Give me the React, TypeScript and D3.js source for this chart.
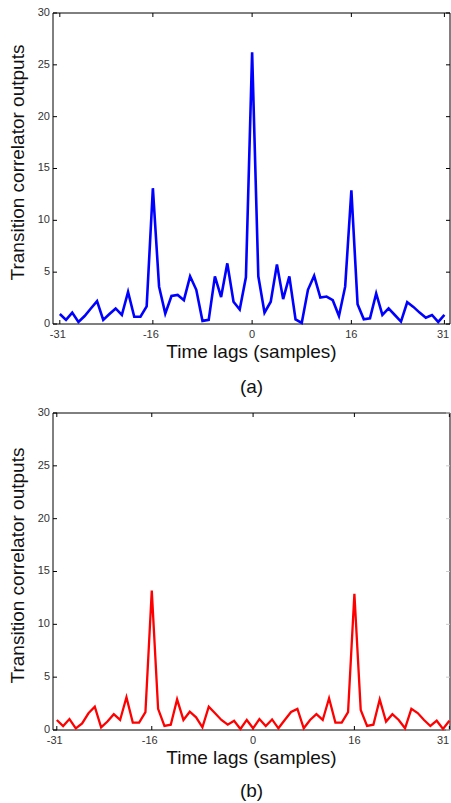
import React from "react";
import * as d3 from "d3";

const lags: number[] = d3.range(-31, 32);

const seriesA: number[] = [
  0.96, 0.4, 1.1, 0.2, 0.77, 1.5, 2.2, 0.4, 0.96, 1.5, 0.87, 3.1, 0.7, 0.7, 1.7,
  13.1, 3.6, 1.0, 2.7, 2.8, 2.3, 4.6, 3.3, 0.3, 0.4, 4.6, 2.6, 5.85, 2.15, 1.4, 4.5,
  26.2,
  4.6, 1.1, 2.15, 5.75, 2.4, 4.6, 0.45, 0.1, 3.3, 4.65, 2.55, 2.65, 2.3, 0.77, 3.6,
  12.9, 1.9, 0.45, 0.55, 2.95, 0.87, 1.5, 0.87, 0.23, 2.1, 1.65, 1.1, 0.6, 0.87, 0.2, 0.87,
];

const seriesB: number[] = [
  0.95, 0.38, 1.04, 0.16, 0.63, 1.58, 2.2, 0.25, 0.8, 1.5, 0.95, 3.1, 0.7, 0.7, 1.7,
  13.2, 2.0, 0.38, 0.5, 2.9, 0.95, 1.73, 1.2, 0.25, 2.2, 1.58, 0.95, 0.5, 0.88, 0.1, 0.95,
  0.16,
  1.04, 0.38, 1.0, 0.16, 0.95, 1.7, 2.0, 0.16, 0.95, 1.5, 0.95, 3.0, 0.7, 0.7, 1.7,
  12.9, 1.9, 0.38, 0.5, 2.9, 0.8, 1.5, 0.95, 0.16, 2.0, 1.6, 0.95, 0.38, 0.88, 0.1, 0.88,
];

const xTicks: number[] = [-31, -16, 0, 16, 31];
const yTicks: number[] = [0, 5, 10, 15, 20, 25, 30];
const xLabel = "Time lags (samples)";
const yLabel = "Transition correlator outputs";

const FONT = "'Liberation Sans', Arial, Helvetica, sans-serif";

type PanelProps = {
  values: number[];
  color: string;
  strokeW: number;
  left: number;
  right: number;
  top: number;
  bottom: number;
  xDomain: [number, number];
  caption: string;
  tickLabelY: number;
  xLabelY: number;
  captionY: number;
  rightTickColor: string;
};

function Panel(p: PanelProps) {
  const x = d3.scaleLinear().domain(p.xDomain).range([p.left, p.right]);
  const y = d3.scaleLinear().domain([0, 30]).range([p.bottom, p.top]);
  const line = d3
    .line<number>()
    .x((_, i) => x(lags[i]))
    .y((d) => y(d));
  const tl = 4;
  const midX = (p.left + p.right) / 2;
  return (
    <g>
      <line x1={p.left} x2={p.right} y1={p.top} y2={p.top} stroke="#000" strokeWidth={1} />
      <line x1={p.left} x2={p.right} y1={p.bottom} y2={p.bottom} stroke="#000" strokeWidth={1} />
      <line x1={p.left} x2={p.left} y1={p.top} y2={p.bottom} stroke="#000" strokeWidth={1} />
      <line x1={p.right} x2={p.right} y1={p.top} y2={p.bottom} stroke="#000" strokeWidth={1} />
      {xTicks.map((t) => (
        <g key={"xt" + t}>
          <line x1={x(t)} x2={x(t)} y1={p.bottom} y2={p.bottom - tl} stroke="#000" />
          <line x1={x(t)} x2={x(t)} y1={p.top} y2={p.top + tl} stroke="#000" />
          <text
            x={Math.min(x(t) - (t < 0 ? 2 : 0), 443)}
            y={p.tickLabelY}
            textAnchor="middle"
            dominantBaseline="middle"
            fontFamily={FONT}
            fontSize={11}
            fill="#333"
          >
            {t}
          </text>
        </g>
      ))}
      {yTicks.map((t) => (
        <g key={"yt" + t}>
          <line x1={p.left} x2={p.left + tl} y1={y(t)} y2={y(t)} stroke="#000" />
          <line x1={p.right} x2={p.right - tl} y1={y(t)} y2={y(t)} stroke={p.rightTickColor} />
          <text
            x={p.left - 3}
            y={y(t)}
            textAnchor="end"
            dominantBaseline="middle"
            fontFamily={FONT}
            fontSize={11}
            fill="#333"
          >
            {t}
          </text>
        </g>
      ))}
      <path d={line(p.values) || ""} fill="none" stroke={p.color} strokeWidth={p.strokeW} strokeLinejoin="miter" />
      <text
        transform={`translate(19,${(p.top + p.bottom) / 2 - 6}) rotate(-90)`}
        textAnchor="middle"
        dominantBaseline="middle"
        fontFamily={FONT}
        fontSize={19}
        fill="#111"
      >
        {yLabel}
      </text>
      <text
        x={midX}
        y={p.xLabelY}
        textAnchor="middle"
        dominantBaseline="middle"
        fontFamily={FONT}
        fontSize={19}
        fill="#111"
      >
        {xLabel}
      </text>
      <text
        x={midX}
        y={p.captionY}
        textAnchor="middle"
        dominantBaseline="middle"
        fontFamily={FONT}
        fontSize={19}
        fill="#111"
      >
        {p.caption}
      </text>
    </g>
  );
}

export default function App() {
  return (
    <svg
      width={451}
      height={803}
      style={{ position: "absolute", left: 0, top: 0, background: "#fff" }}
    >
      <rect x={0} y={0} width={451} height={803} fill="#fff" />
      <Panel
        values={seriesA}
        color="#0000ff"
        strokeW={2.6}
        left={53}
        right={450}
        top={13}
        bottom={324}
        xDomain={[-32.1, 31.9]}
        caption="(a)"
        tickLabelY={335}
        xLabelY={353}
        captionY={388}
        rightTickColor="#000"
      />
      <Panel
        values={seriesB}
        color="#ff0000"
        strokeW={2.3}
        left={53}
        right={450}
        top={413}
        bottom={730}
        xDomain={[-31.6, 31.1]}
        caption="(b)"
        tickLabelY={741}
        xLabelY={759}
        captionY={792}
        rightTickColor="#ccc"
      />
    </svg>
  );
}
